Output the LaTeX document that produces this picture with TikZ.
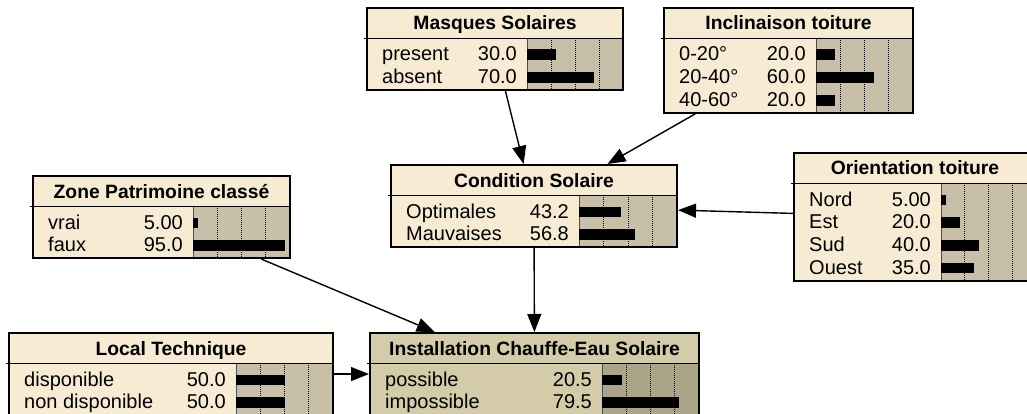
\documentclass[tikz,border=0pt]{standalone}
\usepackage{fontspec}
\setmainfont{Liberation Sans}
\usetikzlibrary{arrows.meta}
\definecolor{netcream}{HTML}{F7ECD3}
\definecolor{netcreambars}{HTML}{C8BFA8}
\definecolor{netkhaki}{HTML}{D4CCA9}
\definecolor{netkhakibars}{HTML}{ACA589}

% [colour] name, left, top, width, bar column offset, title, states/beliefs
\newcommand{\beliefnode}[8][cream]{%
  \foreach \lab/\pct [count=\k] in {#8} {\xdef\nstates{\k}}
  \pgfmathsetmacro{\boxh}{36.5+22.8*\nstates}
  \pgfmathsetmacro{\barw}{#5-#6}
  \fill[net#1] (#3,#4) rectangle ++(#5,\boxh);
  \fill[net#1bars] (#3+#6,#4+31) rectangle (#3+#5,#4+\boxh);
  \foreach \f in {0.25,0.5,0.75}
    \draw[gridline] (#3+#6+\f*\barw,#4+32) -- (#3+#6+\f*\barw,#4+\boxh);
  \draw[black!70, line width=1pt] (#3+#6,#4+31) -- (#3+#6,#4+\boxh);
  \foreach \lab/\pct [count=\k] in {#8} {
    \pgfmathsetmacro{\rowy}{#4+53+(\k-1)*22.8}
    \node[statetext, anchor=base west] at (#3+15,\rowy) {\lab};
    \node[statetext, anchor=base east] at (#3+#6-10,\rowy) {\pct};
    \fill (#3+#6,\rowy-11.5) rectangle ++(\pct*\barw/100,10.5);
  }
  \draw[line width=1.5pt] (#3-3,#4+30.5) -- (#3+#5,#4+30.5);
  \node[titletext, anchor=base] at (#3+#5/2,#4+22) {#7};
  \node[bnbox, minimum width=#5pt, minimum height=\boxh pt] (#2) at (#3+#5/2,#4+\boxh/2) {};
}

\begin{document}
\begin{tikzpicture}[
  x=1pt, y=-1pt,
  bnbox/.style={draw, line width=2pt, inner sep=0pt},
  statetext/.style={font=\fontsize{20}{23}\selectfont, inner sep=0pt},
  titletext/.style={font=\fontsize{19.3}{23}\selectfont\bfseries, inner sep=0pt},
  gridline/.style={line width=0.9pt, dash pattern=on 1pt off 1pt},
  arrow/.style={-{Triangle[length=18pt,width=14pt]}, line width=1.4pt}
]
\fill[white] (0,0) rectangle (1027,414);
\path[use as bounding box] (0,0) rectangle (1027,414);
\clip (0,0) rectangle (1027,414);

\beliefnode{masques}{367}{8}{256}{160}{Masques Solaires}{present/30.0, absent/70.0}
\beliefnode{inclinaison}{664}{8}{249}{152}{Inclinaison toiture}{0-20°/20.0, 20-40°/60.0, 40-60°/20.0}
\beliefnode{zone}{33}{176}{257}{160}{Zone Patrimoine classé}{vrai/5.00, faux/95.0}
\beliefnode{condition}{391}{165}{286}{188}{Condition Solaire}{Optimales/43.2, Mauvaises/56.8}
\beliefnode{orientation}{794}{153}{242}{147}{Orientation toiture}{Nord/5.00, Est/20.0, Sud/40.0, Ouest/35.0}
\beliefnode{local}{9}{333}{324}{227}{Local Technique}{disponible/50.0, non disponible/50.0}
\beliefnode[khaki]{installation}{370}{333}{329}{232}{Installation Chauffe-Eau Solaire}{possible/20.5, impossible/79.5}

\draw[arrow] (masques) -- (condition);
\draw[arrow] (inclinaison) -- (condition);
\draw[arrow] (orientation) -- (condition);
\draw[arrow] (zone) -- (installation);
\draw[arrow] (condition) -- (installation);
\draw[arrow] (local) -- (installation);
\end{tikzpicture}
\end{document}
